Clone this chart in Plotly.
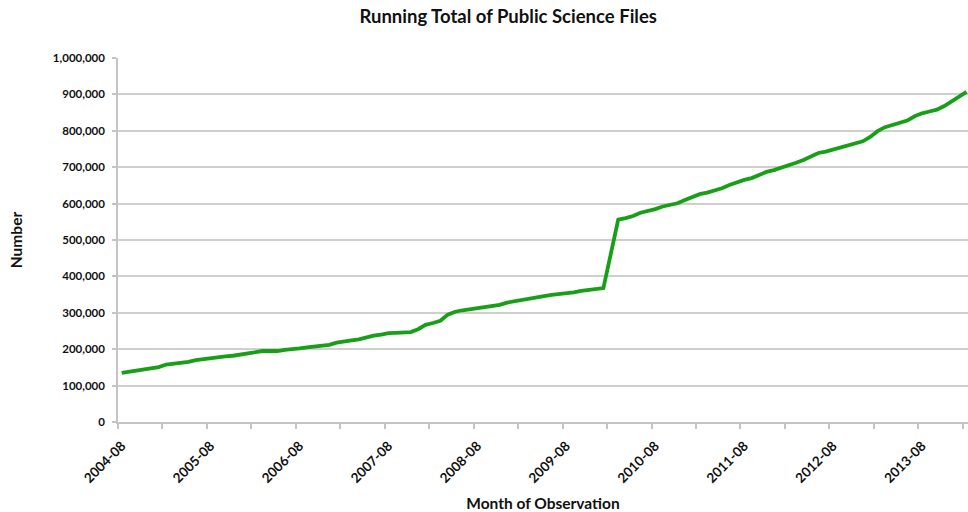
import plotly.graph_objects as go

# Month labels 2004-08 .. 2014-02
months = []
y, m = 2004, 8
for _ in range(115):
    months.append(f"{y}-{m:02d}")
    m += 1
    if m > 12:
        m = 1
        y += 1

# Running total (thousands)
totals_k = [
    135, 138, 141, 144, 147, 151, 158, 160, 164, 165, 170, 173,
    175, 177, 180, 182, 185, 188, 192, 195, 195, 195, 198, 199,
    202, 205, 208, 211, 212, 218, 222, 224, 227, 233, 237, 240,
    244, 245, 246, 247, 255, 267, 272, 278, 295, 303, 307, 310,
    313, 314, 317, 322, 328, 332, 336, 340, 343, 346, 349, 351,
    352, 356, 360, 363, 366, 368, 462, 556, 560, 566, 575, 579,
    585, 592, 596, 601, 610, 619, 626, 630, 635, 642, 651, 659,
    665, 670, 678, 687, 692, 698, 705, 712, 720, 730, 739, 743,
    749, 755, 760, 765, 771, 783, 799, 810, 816, 822, 828, 840,
    848, 853, 858, 868, 880, 893, 907,
]
values = [v * 1000 for v in totals_k]
idx = list(range(len(months)))
label_idx = idx[::12]
label_text = months[::12]
y_ticks = list(range(0, 1_000_001, 100_000))

FONT = "Lato"
fig = go.Figure()
fig.add_trace(go.Scatter(
    x=idx, y=values, mode="lines",
    line=dict(color="#17a017", width=3.8),
    hoverinfo="skip", showlegend=False,
))

fig.update_layout(
    width=968, height=512,
    margin=dict(l=118, r=0, t=58, b=90),
    paper_bgcolor="white", plot_bgcolor="white",
    font=dict(family=FONT, color="#111111"),
    title=dict(
        text="<b>Running Total of Public Science Files</b>",
        x=0.525, xanchor="center", y=0.967, yanchor="middle",
        font=dict(size=18.5, family=FONT, color="#111111"),
    ),
    xaxis=dict(
        range=[-0.5, 114.2],
        tickmode="array", tickvals=label_idx, ticktext=label_text,
        tickangle=-45, ticks="", showgrid=False, zeroline=False,
        showline=True, linecolor="#c4c4c4", linewidth=1.5,
        ticklabelstandoff=9,
        tickfont=dict(size=13.5, family=FONT, color="#111111", weight="bold"),
        minor=dict(ticks="outside", tick0=-0.5, dtick=6, ticklen=5,
                   tickcolor="#c4c4c4", tickwidth=1.5, showgrid=False),
        title=dict(text="<b>Month of Observation</b>", standoff=27,
                   font=dict(size=15.5, family=FONT, color="#111111")),
        automargin=False,
    ),
    yaxis=dict(
        range=[0, 1_000_000],
        tickmode="array", tickvals=y_ticks, tickformat=",d",
        ticks="outside", ticklen=4, tickcolor="#c4c4c4", tickwidth=1.5,
        ticklabelstandoff=5,
        showgrid=True, gridcolor="#cfcfcf", gridwidth=1.8,
        zeroline=False, showline=True, linecolor="#c4c4c4", linewidth=1.5,
        tickfont=dict(size=11.5, family=FONT, color="#111111", weight="bold"),
        title=dict(text="<b>Number</b>", standoff=26,
                   font=dict(size=15.5, family=FONT, color="#111111")),
        automargin=False,
    ),
)

fig.write_html(
    "out.html",
    config={"displayModeBar": False},
    post_script="document.body.style.margin='0px';",
)
